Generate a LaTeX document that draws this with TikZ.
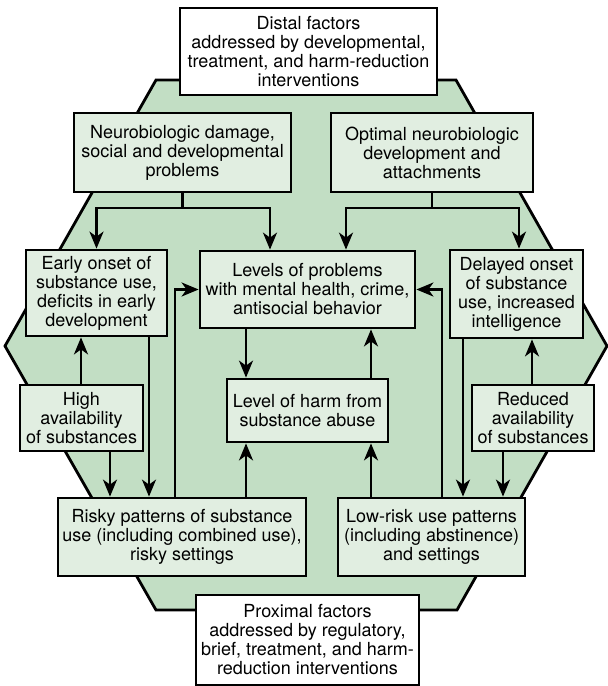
\documentclass[tikz,border=0pt]{standalone}
\usepackage{fontspec}
\setmainfont{TeX Gyre Heros}
\usetikzlibrary{arrows.meta}
\definecolor{hex_green}{RGB}{194, 222, 196}
\definecolor{box_green}{RGB}{225, 238, 225}

\begin{document}
\begin{tikzpicture}[
    x=1pt, y=-1pt,
    every node/.style={font=\fontsize{18}{19}\selectfont},
    box/.style={draw=black, line width=2.8pt, fill=box_green,
                align=center, inner sep=0pt},
    wbox/.style={box, fill=white},
    arr/.style={-{Stealth[length=17pt, width=14pt, inset=5pt]}, line width=2.4pt},
    lnk/.style={line width=2.4pt},
    hex/.style={draw=black, line width=2.8pt, fill=hex_green},
]
\useasboundingbox (0,0) rectangle (608,686);
\path[hex] (156,80) -- (456,80) -- (607,346) -- (457,610) -- (156,610) -- (5,346) -- cycle;

\node[wbox, minimum width=257, minimum height=87] (distal)   at (308.5,51.5) {Distal factors\\addressed by developmental,\\treatment, and harm-reduction\\interventions};
\node[box,  minimum width=217, minimum height=79] (neuro)    at (182.5,152.5) {Neurobiologic damage,\\social and developmental\\problems};
\node[box,  minimum width=202, minimum height=79] (optimal)  at (432,152.5) {Optimal neurobiologic\\development and\\attachments};
\node[box,  minimum width=141, minimum height=86] (early)    at (96.5,293) {Early onset of\\substance use,\\deficits in early\\development};
\node[box,  minimum width=215, minimum height=77] (levels)   at (307.5,289.5) {Levels of problems\\with mental health, crime,\\antisocial behavior};
\node[box,  minimum width=133, minimum height=88] (delayed)  at (516.5,294) {Delayed onset\\of substance\\use, increased\\intelligence};
\node[box,  minimum width=161, minimum height=63] (harm)     at (307.5,410.5) {Level of harm from\\substance abuse};
\node[box,  minimum width=123, minimum height=66] (high)     at (81.5,418) {High\\availability\\of substances};
\node[box,  minimum width=122, minimum height=66] (reduced)  at (533,418) {Reduced\\availability\\of substances};
\node[box,  minimum width=248, minimum height=78] (risky)    at (182,537) {Risky patterns of substance\\use (including combined use),\\risky settings};
\node[box,  minimum width=187, minimum height=78] (low)      at (431.5,537) {Low-risk use patterns\\(including abstinence)\\and settings};
\node[wbox, minimum width=223, minimum height=90] (proximal) at (307.5,640) {Proximal factors\\addressed by regulatory,\\brief, treatment, and harm-\\reduction interventions};

\coordinate (nsplit) at (neuro.south |- 0,208);
\coordinate (osplit) at (optimal.south |- 0,208);
\draw[lnk] (neuro) -- (nsplit);
\draw[arr] (nsplit) -| (early);
\draw[arr] (nsplit) -| (levels.north -| 270,0);
\draw[lnk] (optimal) -- (osplit);
\draw[arr] (osplit) -| (levels.north -| 346,0);
\draw[arr] (osplit) -| (delayed.north -| 519,0);

\draw[arr] (high.north -| 81,0) -- (early.south -| 81,0);
\draw[arr] (reduced.north -| 532,0) -- (delayed.south -| 532,0);
\draw[arr] (levels.south -| 246,0) -- (harm.north -| 246,0);
\draw[arr] (harm.north -| 371,0) -- (levels.south -| 371,0);

\draw[arr] (high.south -| 110,0) -- (risky.north -| 110,0);
\draw[arr] (early.south -| 149,0) -- (risky.north -| 149,0);
\draw[arr] (risky.north -| 175,0) |- (levels.west);
\draw[arr] (risky.north -| 246,0) -- (harm.south -| 246,0);
\draw[arr] (low.north -| 371,0) -- (harm.south -| 371,0);
\draw[arr] (low.north -| 442,0) |- (levels.east);
\draw[arr] (delayed.south -| 463,0) -- (low.north -| 463,0);
\draw[arr] (reduced.south -| 503,0) -- (low.north -| 503,0);
\end{tikzpicture}
\end{document}
